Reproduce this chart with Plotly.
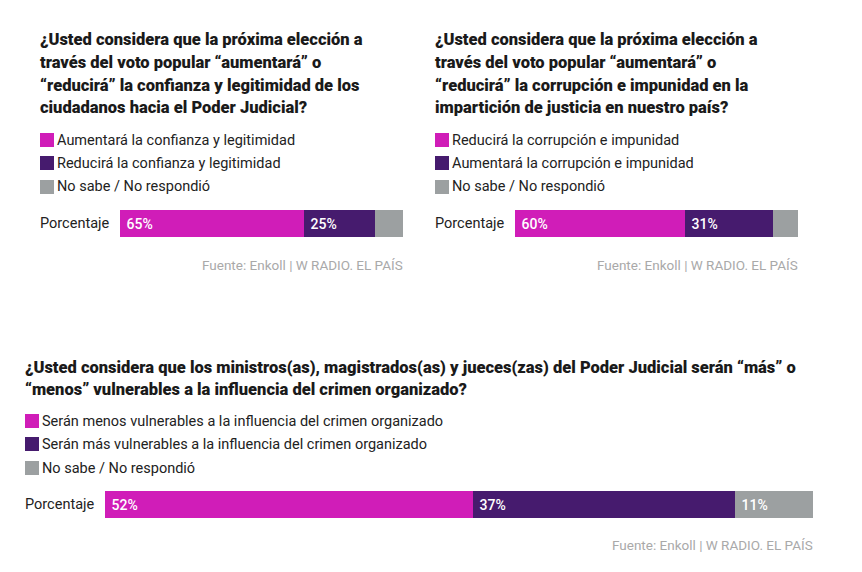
import plotly.graph_objects as go

W, H = 862, 572

# ---- data ----
titles = [
    ["¿Usted considera que la próxima elección a", "través del voto popular “aumentará” o",
     "“reducirá” la confianza y legitimidad de los", "ciudadanos hacia el Poder Judicial?"],
    ["¿Usted considera que la próxima elección a", "través del voto popular “aumentará” o",
     "“reducirá” la corrupción e impunidad en la", "impartición de justicia en nuestro país?"],
    ["¿Usted considera que los ministros(as), magistrados(as) y jueces(zas) del Poder Judicial serán “más” o",
     "“menos” vulnerables a la influencia del crimen organizado?"],
]
legend_labels = [
    ["Aumentará la confianza y legitimidad", "Reducirá la confianza y legitimidad", "No sabe / No respondió"],
    ["Reducirá la corrupción e impunidad", "Aumentará la corrupción e impunidad", "No sabe / No respondió"],
    ["Serán menos vulnerables a la influencia del crimen organizado",
     "Serán más vulnerables a la influencia del crimen organizado", "No sabe / No respondió"],
]
values = [
    [65, 25, 10],
    [60, 31, 9],
    [52, 37, 11],
]
show_labels = [
    [True, True, False],
    [True, True, False],
    [True, True, True],
]
category = "Porcentaje"
source = "Fuente: Enkoll | W RADIO. EL PAÍS"

colors = ["#d01db8", "#461b6e", "#9ca0a1"]

# ---- layout (pixels) ----
panels = [
    dict(x0=40, title_y=40, leg_y=[140, 163, 187], bar_x=(120, 403), bar_y=(210, 237), src_y=265),
    dict(x0=435, title_y=40, leg_y=[140, 163, 187], bar_x=(515, 798), bar_y=(210, 237), src_y=265),
    dict(x0=25, title_y=367, leg_y=[421, 444, 468], bar_x=(105, 813), bar_y=(491, 518), src_y=545),
]
LINE_H = 22.6

def px(x):
    return x / W

def py(y):
    return 1 - y / H

TITLE_FONT = dict(family="Roboto", size=16.5, color="#1a1a1a", weight=900)
BODY_FONT = dict(family="Roboto", size=14.5, color="#222222")

fig = go.Figure()
annotations = []
shapes = []
layout_axes = {}

for i, (p, vals, labs, shows) in enumerate(zip(panels, values, legend_labels, show_labels)):
    n = "" if i == 0 else str(i + 1)
    xa, ya = "x" + n, "y" + n
    for j, v in enumerate(vals):
        fig.add_trace(go.Bar(
            x=[v], y=[category], orientation="h",
            marker=dict(color=colors[j], line=dict(width=0)),
            text=[f" {v}%" if shows[j] else ""],
            textposition="inside", insidetextanchor="start",
            textfont=dict(family="Roboto", size=14, color="white", weight=500),
            xaxis=xa, yaxis=ya, showlegend=False, hoverinfo="skip",
            cliponaxis=False,
        ))
    layout_axes["xaxis" + n] = dict(
        domain=[px(p["bar_x"][0]), px(p["bar_x"][1])], range=[0, sum(vals)],
        visible=False, fixedrange=True, anchor=ya,
    )
    layout_axes["yaxis" + n] = dict(
        domain=[py(p["bar_y"][1]), py(p["bar_y"][0])], visible=False,
        fixedrange=True, anchor=xa,
    )
    # title lines
    for k, line in enumerate(titles[i]):
        annotations.append(dict(
            text=line, x=px(p["x0"] - 2), y=py(p["title_y"] + k * LINE_H),
            xref="paper", yref="paper", xanchor="left", yanchor="middle", align="left",
            showarrow=False, font=TITLE_FONT,
        ))
    # legend
    for j, lab in enumerate(labs):
        cy = p["leg_y"][j]
        shapes.append(dict(
            type="rect", xref="paper", yref="paper",
            x0=px(p["x0"]), x1=px(p["x0"] + 14), y0=py(cy + 7), y1=py(cy - 7),
            fillcolor=colors[j], line=dict(width=0),
        ))
        annotations.append(dict(
            text=lab, x=px(p["x0"] + 15), y=py(cy), xref="paper", yref="paper",
            xanchor="left", yanchor="middle", showarrow=False, font=BODY_FONT,
        ))
    # category label
    annotations.append(dict(
        text=category, x=px(p["x0"] - 2), y=py((p["bar_y"][0] + p["bar_y"][1]) / 2),
        xref="paper", yref="paper", xanchor="left", yanchor="middle",
        showarrow=False, font=BODY_FONT,
    ))
    # source
    annotations.append(dict(
        text=source, x=px(p["bar_x"][1] + 2), y=py(p["src_y"]), xref="paper", yref="paper",
        xanchor="right", yanchor="middle", showarrow=False,
        font=dict(family="Roboto", size=13.5, color="#a9a9a9"),
    ))

fig.update_layout(
    width=W, height=H, margin=dict(l=0, r=0, t=0, b=0),
    paper_bgcolor="white", plot_bgcolor="white",
    barmode="stack", bargap=0, showlegend=False,
    annotations=annotations, shapes=shapes,
    uniformtext=dict(mode="show", minsize=8),
    **layout_axes,
)
for k in layout_axes:
    if k.startswith("yaxis"):
        fig.layout[k].range = [-0.5, 0.5]

fig.write_html("out.html", config={"displayModeBar": False})
